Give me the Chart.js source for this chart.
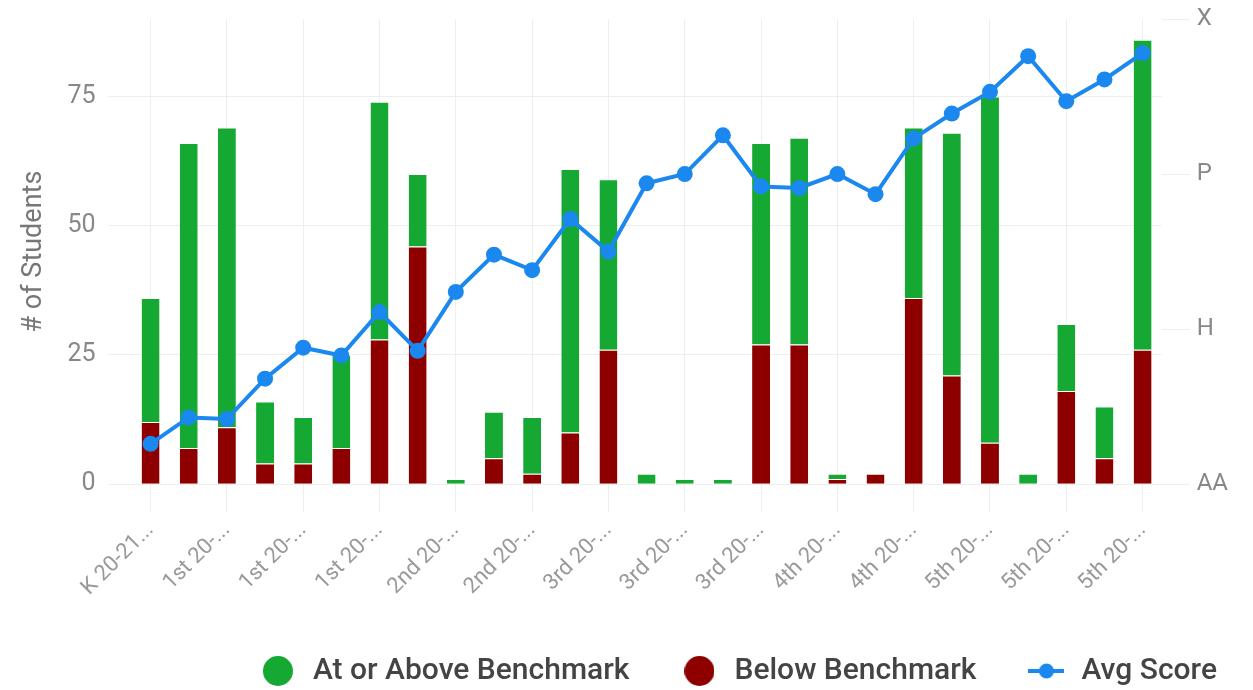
<!DOCTYPE html>
<html>
<head>
<meta charset="utf-8">
<script src="https://cdn.jsdelivr.net/npm/chart.js@4/dist/chart.umd.min.js"></script>
<style>
    html, body { margin: 0; padding: 0; background: #fff; }
    #wrap { width: 1253px; height: 690px; }
</style>
</head>
<body>
<div id="wrap"><canvas id="benchmarkChart"></canvas></div>
<script>
// Datos
const categories = [
    'K 20-21...', 'K 20-21...',
    '1st 20-...', '1st 20-...', '1st 20-...', '1st 20-...', '1st 20-...', '1st 20-...',
    '2nd 20-...', '2nd 20-...', '2nd 20-...', '2nd 20-...',
    '3rd 20-...', '3rd 20-...', '3rd 20-...', '3rd 20-...', '3rd 20-...', '3rd 20-...',
    '4th 20-...', '4th 20-...', '4th 20-...', '4th 20-...',
    '5th 20-...', '5th 20-...', '5th 20-...', '5th 20-...', '5th 20-...'
];
const belowBenchmark = [12, 7, 11, 4, 4, 7, 28, 46, 0, 5, 2, 10, 26, 0, 0, 0, 27, 27, 1, 2, 36, 21, 8, 0, 18, 5, 26];
const atOrAbove      = [24, 59, 58, 12, 9, 18, 46, 14, 1, 9, 11, 51, 33, 2, 1, 1, 39, 40, 1, 0, 33, 47, 67, 2, 13, 10, 60];
const avgScore       = [0.26, 0.43, 0.42, 0.68, 0.88, 0.83, 1.11, 0.86, 1.24, 1.48, 1.38, 1.71, 1.50, 1.94,
                        2.00, 2.25, 1.92, 1.91, 2.00, 1.87, 2.23, 2.39, 2.53, 2.76, 2.47, 2.61, 2.78];
const scoreLabels = ['AA', 'H', 'P', 'X'];
const legendOrder = ['At or Above Benchmark', 'Below Benchmark', 'Avg Score'];

const GREEN = '#15a833';
const RED = '#8e0000';
const BLUE = '#1a88ee';
const GRID = '#eeeeee';

// iconos de la leyenda (círculo para barras, línea con punto para la serie)
function circleIcon(color) {
    const cv = document.createElement('canvas');
    cv.width = 30; cv.height = 30;
    const g = cv.getContext('2d');
    g.fillStyle = color;
    g.beginPath(); g.arc(15, 15, 15, 0, Math.PI * 2); g.fill();
    return cv;
}

function lineIcon() {
    const cv = document.createElement('canvas');
    cv.width = 36; cv.height = 16;
    const g = cv.getContext('2d');
    g.strokeStyle = BLUE;
    g.lineWidth = 4;
    g.beginPath(); g.moveTo(0, 8); g.lineTo(36, 8); g.stroke();
    g.fillStyle = BLUE;
    g.beginPath(); g.arc(18, 8, 7.5, 0, Math.PI * 2); g.fill();
    return cv;
}

const ctx = document.getElementById('benchmarkChart').getContext('2d');

new Chart(ctx, {
    data: {
        labels: categories,
        datasets: [
            {
                type: 'line',
                label: 'Avg Score',
                data: avgScore,
                yAxisID: 'y1',
                borderColor: BLUE,
                backgroundColor: BLUE,
                borderWidth: 4,
                pointRadius: 8,
                pointBackgroundColor: BLUE,
                pointBorderWidth: 0,
                tension: 0,
                order: 0
            },
            {
                type: 'bar',
                label: 'Below Benchmark',
                data: belowBenchmark,
                yAxisID: 'y',
                backgroundColor: RED,
                borderColor: '#ffffff',
                borderWidth: { top: 1, left: 0, right: 0, bottom: 0 },
                borderSkipped: false,
                barPercentage: 0.47,
                categoryPercentage: 1.0,
                order: 1
            },
            {
                type: 'bar',
                label: 'At or Above Benchmark',
                data: atOrAbove,
                yAxisID: 'y',
                backgroundColor: GREEN,
                borderColor: '#ffffff',
                borderWidth: { top: 1, left: 0, right: 0, bottom: 0 },
                borderSkipped: false,
                barPercentage: 0.47,
                categoryPercentage: 1.0,
                order: 1
            }
        ]
    },
    options: {
        responsive: true,
        maintainAspectRatio: false,
        animation: false,
        layout: { padding: { left: 18, right: -14, top: 19, bottom: -6 } },
        plugins: {
            tooltip: { enabled: false },
            legend: {
                position: 'bottom',
                align: 'end',
                labels: {
                    usePointStyle: true,
                    pointStyleWidth: 40,
                    boxHeight: 21,
                    padding: 50,
                    color: '#444',
                    font: { family: 'Roboto', size: 30, weight: '500' },
                    generateLabels: function (chart) {
                        const items = Chart.defaults.plugins.legend.labels.generateLabels(chart);
                        items.forEach(it => {
                            const ds = chart.data.datasets[it.datasetIndex];
                            it.pointStyle = ds.type === 'line' ? lineIcon() : circleIcon(ds.backgroundColor);
                            it.lineWidth = 0;
                        });
                        return legendOrder.map(name => items.find(it => it.text === name));
                    }
                }
            }
        },
        scales: {
            x: {
                stacked: true,
                border: { display: false },
                grid: {
                    offset: false,
                    tickLength: 28,
                    color: (c) => (c.index % 2 === 0 ? GRID : 'rgba(0,0,0,0)')
                },
                ticks: {
                    autoSkip: false,
                    minRotation: 45,
                    maxRotation: 45,
                    padding: 5,
                    color: '#999',
                    font: { family: 'Roboto', size: 22 },
                    callback: function (value, index) {
                        return index % 2 === 0 ? this.getLabelForValue(value) : '';
                    }
                }
            },
            y: {
                stacked: true,
                position: 'left',
                min: 0,
                max: 90,
                border: { display: false },
                grid: { color: GRID, tickLength: 23 },
                ticks: {
                    stepSize: 25,
                    padding: 13,
                    color: '#888',
                    font: { family: 'Roboto', size: 25 }
                },
                afterBuildTicks: (axis) => {
                    axis.ticks = axis.ticks.filter(t => t.value % 25 === 0);
                },
                afterFit: (axis) => { axis.paddingTop = 0; },
                title: {
                    display: true,
                    text: '# of Students',
                    color: '#777',
                    padding: { top: 0, bottom: 4 },
                    font: { family: 'Roboto', size: 27 }
                }
            },
            y1: {
                position: 'right',
                min: 0,
                max: 3,
                border: { display: false },
                grid: { drawOnChartArea: false, color: GRID, tickLength: 28 },
                ticks: {
                    stepSize: 1,
                    padding: 7,
                    color: '#888',
                    font: { family: 'Roboto', size: 24 },
                    callback: (v) => scoreLabels[v]
                },
                afterFit: (axis) => { axis.width += 32; axis.paddingTop = 0; }
            }
        }
    }
});
</script>
</body>
</html>
